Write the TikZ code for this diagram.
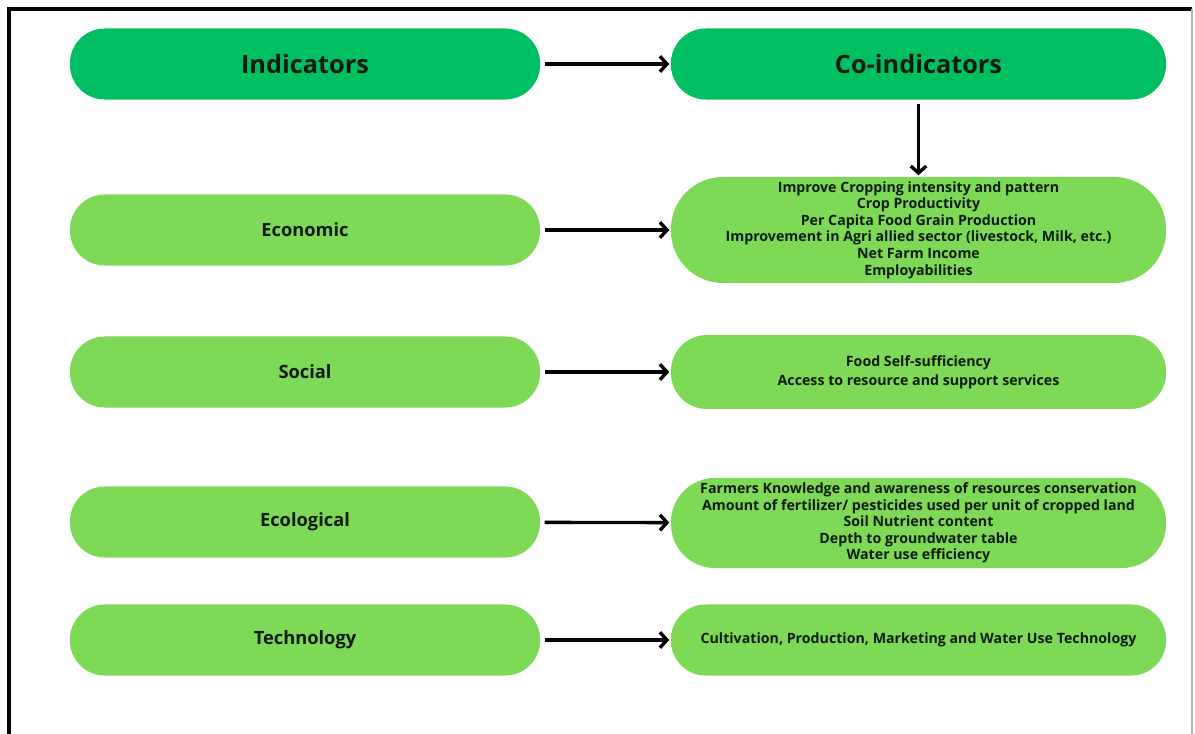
\documentclass[tikz,border=0pt]{standalone}
\usepackage{fontspec}
\setmainfont{Open Sans}
\usetikzlibrary{arrows.meta}
\definecolor{headgreen}{HTML}{00BF63}
\definecolor{boxgreen}{HTML}{7ED957}
\definecolor{inkdark}{HTML}{0F1A10}

\begin{document}
\begin{tikzpicture}[x=0.025cm,y=-0.025cm]
\tikzstyle{every node}+=[inner sep=0pt]
\tikzstyle{pill}=[rectangle, text=inkdark, align=center]
\tikzstyle{headbox}=[pill, fill=headgreen, minimum height=1.775cm, rounded corners=0.87cm, font=\bfseries\fontsize{18}{20}\selectfont]
\tikzstyle{indbox}=[pill, fill=boxgreen, minimum width=11.75cm, minimum height=1.775cm, rounded corners=0.87cm, font=\bfseries\fontsize{13}{15}\selectfont]
\tikzstyle{cobox}=[pill, fill=boxgreen, minimum width=12.375cm, font=\bfseries\fontsize{10.1}{11.8}\selectfont]
\tikzstyle{conn}=[line width=2.4pt, -{Straight Barb[length=5pt,width=11pt]}, shorten <=3pt, shorten >=1pt]
\useasboundingbox (0,0) rectangle (1195,734);
\draw [black, line width=2.2pt] (9,734) -- (9,9) -- (1192,9);
\draw [gray!60, line width=0.8pt] (1192,9) -- (1192,734);
\node [headbox, minimum width=11.75cm] (ind) at (305,64) {Indicators};
\node [headbox, minimum width=12.375cm] (coind) at (918.5,64) {Co-indicators};
\node [indbox] (eco) at (305,230) {Economic};
\node [cobox, minimum height=2.65cm, rounded corners=1.3cm] (ecoco) at (918.5,230) {Improve Cropping intensity and pattern\\Crop Productivity\\Per Capita Food Grain Production\\Improvement in Agri allied sector (livestock, Milk, etc.)\\Net Farm Income\\Employabilities};
\node [indbox] (soc) at (305,372) {Social};
\node [cobox, minimum height=1.85cm, rounded corners=0.9cm, font=\bfseries\fontsize{10.1}{13.5}\selectfont] (socco) at (918.5,372) {Food Self-sufficiency\\Access to resource and support services};
\node [indbox] (ecol) at (305,522) {Ecological};
\node [cobox, minimum height=2.25cm, rounded corners=1.1cm] (ecolco) at (918.5,523) {Farmers Knowledge and awareness of resources conservation\\Amount of fertilizer/ pesticides used per unit of cropped land\\Soil Nutrient content\\Depth to groundwater table\\Water use efficiency};
\node [indbox] (tech) at (305,640) {Technology};
\node [cobox, minimum height=1.775cm, rounded corners=0.87cm] (techco) at (918.5,640) {Cultivation, Production, Marketing and Water Use Technology};
\draw [conn] (ind) -- (coind);
\draw [conn] (coind) -- (ecoco);
\draw [conn] (eco) -- (ecoco);
\draw [conn] (soc) -- (socco);
\draw [conn] (ecol) -- (ecolco);
\draw [conn] (tech) -- (techco);
\end{tikzpicture}
\end{document}
